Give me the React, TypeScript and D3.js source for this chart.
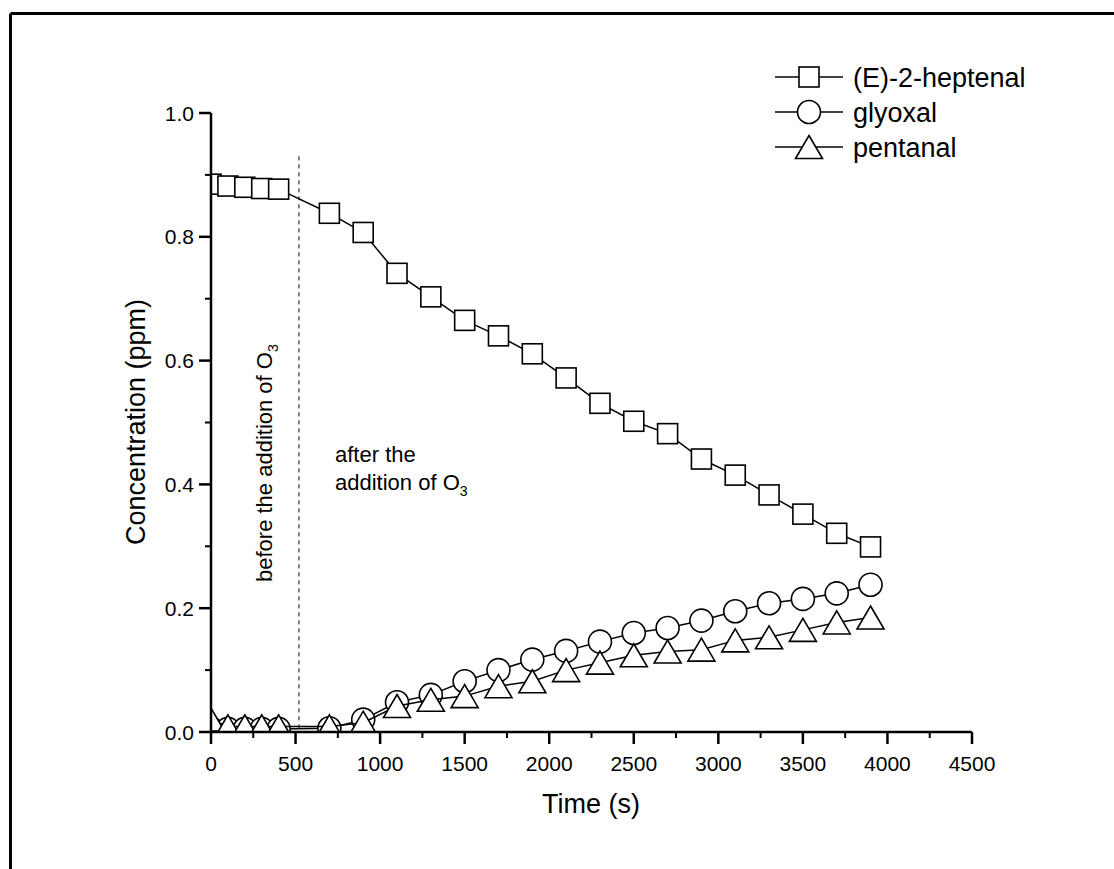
import React from "react";
import * as d3 from "d3";

const times = [0, 100, 200, 300, 400, 700, 900, 1100, 1300, 1500, 1700, 1900, 2100, 2300, 2500, 2700, 2900, 3100, 3300, 3500, 3700, 3900];
const heptenal = [0.885, 0.882, 0.88, 0.878, 0.877, 0.838, 0.807, 0.741, 0.703, 0.665, 0.64, 0.611, 0.572, 0.531, 0.502, 0.482, 0.441, 0.415, 0.383, 0.352, 0.321, 0.299];
const glyoxal = [0.006, 0.005, 0.005, 0.005, 0.005, 0.006, 0.02, 0.048, 0.06, 0.082, 0.1, 0.117, 0.131, 0.146, 0.16, 0.168, 0.18, 0.195, 0.208, 0.215, 0.224, 0.238];
const pentanal = [0.02, 0.009, 0.009, 0.009, 0.009, 0.009, 0.015, 0.042, 0.052, 0.058, 0.074, 0.082, 0.1, 0.112, 0.124, 0.13, 0.133, 0.148, 0.153, 0.165, 0.177, 0.185];
const xTicks = [0, 500, 1000, 1500, 2000, 2500, 3000, 3500, 4000, 4500];
const yTicks = [0.0, 0.2, 0.4, 0.6, 0.8, 1.0];
const legendNames = ["(E)-2-heptenal", "glyoxal", "pentanal"];
const markerLine = 520;

const FONT = "Liberation Sans, Arial, sans-serif";

function Marker({ kind, x, y }: { kind: string; x: number; y: number }) {
  const common = { fill: "white", stroke: "black", strokeWidth: 1.6 };
  if (kind === "square") return <rect x={x - 10} y={y - 10} width={20} height={20} {...common} />;
  if (kind === "circle") return <circle cx={x} cy={y} r={11.5} {...common} />;
  const w = 27, h = 23;
  return <path d={`M${x},${y - h / 2}L${x + w / 2},${y + h / 2}L${x - w / 2},${y + h / 2}Z`} {...common} />;
}

export default function App() {
  const x = d3.scaleLinear().domain([0, 4500]).range([211, 972]);
  const y = d3.scaleLinear().domain([0, 1]).range([732, 113]);
  const series = [
    { name: legendNames[0], values: heptenal, kind: "square" },
    { name: legendNames[1], values: glyoxal, kind: "circle" },
    { name: legendNames[2], values: pentanal, kind: "triangle" },
  ];
  const line = d3.line<[number, number]>().x((d) => x(d[0])).y((d) => y(d[1]));
  const minorX = d3.range(250, 4500, 500);
  const minorY = d3.range(0.1, 1.0, 0.2);

  return (
    <svg width={1114} height={869} style={{ position: "absolute", left: 0, top: 0, background: "white" }}>
      <defs>
        <clipPath id="plotclip">
          <rect x={211} y={100} width={972 - 211} height={732 - 100} />
        </clipPath>
      </defs>
      <rect x={0} y={0} width={1114} height={869} fill="white" />
      <line x1={10.5} y1={13.5} x2={1114} y2={13.5} stroke="black" strokeWidth={3} />
      <line x1={10.5} y1={13.5} x2={10.5} y2={869} stroke="black" strokeWidth={3} />

      <line x1={x(markerLine)} x2={x(markerLine)} y1={y(0.93)} y2={y(0)} stroke="black" strokeWidth={1} strokeDasharray="4,4" />

      <g clipPath="url(#plotclip)">
        {series.map((s) => (
          <g key={s.name}>
            <path d={line(times.map((t, i) => [t, s.values[i]]) as [number, number][]) || ""} fill="none" stroke="black" strokeWidth={1.5} />
            {times.map((t, i) => (
              <Marker key={i} kind={s.kind} x={x(t)} y={y(s.values[i])} />
            ))}
          </g>
        ))}
      </g>

      <line x1={x(0)} x2={x(4500)} y1={732} y2={732} stroke="black" strokeWidth={2.5} />
      <line x1={211} x2={211} y1={y(1)} y2={732} stroke="black" strokeWidth={2.5} />
      {xTicks.map((t) => (
        <g key={t}>
          <line x1={x(t)} x2={x(t)} y1={732} y2={744} stroke="black" strokeWidth={2.5} />
          <text x={x(t)} y={771} textAnchor="middle" fontFamily={FONT} fontSize={21}>{t}</text>
        </g>
      ))}
      {minorX.map((t) => (
        <line key={t} x1={x(t)} x2={x(t)} y1={732} y2={738} stroke="black" strokeWidth={2} />
      ))}
      {yTicks.map((v) => (
        <g key={v}>
          <line x1={199} x2={211} y1={y(v)} y2={y(v)} stroke="black" strokeWidth={2.5} />
          <text x={194} y={y(v) + 7.5} textAnchor="end" fontFamily={FONT} fontSize={21}>{v.toFixed(1)}</text>
        </g>
      ))}
      {minorY.map((v) => (
        <line key={v} x1={205} x2={211} y1={y(v)} y2={y(v)} stroke="black" strokeWidth={2} />
      ))}

      <text x={591} y={813} textAnchor="middle" fontFamily={FONT} fontSize={27}>Time (s)</text>
      <text transform={`translate(145,422) rotate(-90)`} textAnchor="middle" fontFamily={FONT} fontSize={27}>Concentration (ppm)</text>

      <text transform={`translate(272,582) rotate(-90)`} textAnchor="start" fontFamily={FONT} fontSize={22}>
        before the addition of O<tspan fontSize={14} dy={6}>3</tspan>
      </text>
      <text x={335} y={462} fontFamily={FONT} fontSize={22}>after the</text>
      <text x={335} y={490} fontFamily={FONT} fontSize={22}>
        addition of O<tspan fontSize={14} dy={6}>3</tspan>
      </text>

      {series.map((s, i) => {
        const ly = 77 + i * 35;
        return (
          <g key={s.name}>
            <line x1={775} x2={843} y1={ly} y2={ly} stroke="black" strokeWidth={1.5} />
            <Marker kind={s.kind} x={809} y={ly} />
            <text x={853} y={ly + 10} fontFamily={FONT} fontSize={27}>{s.name}</text>
          </g>
        );
      })}
    </svg>
  );
}
